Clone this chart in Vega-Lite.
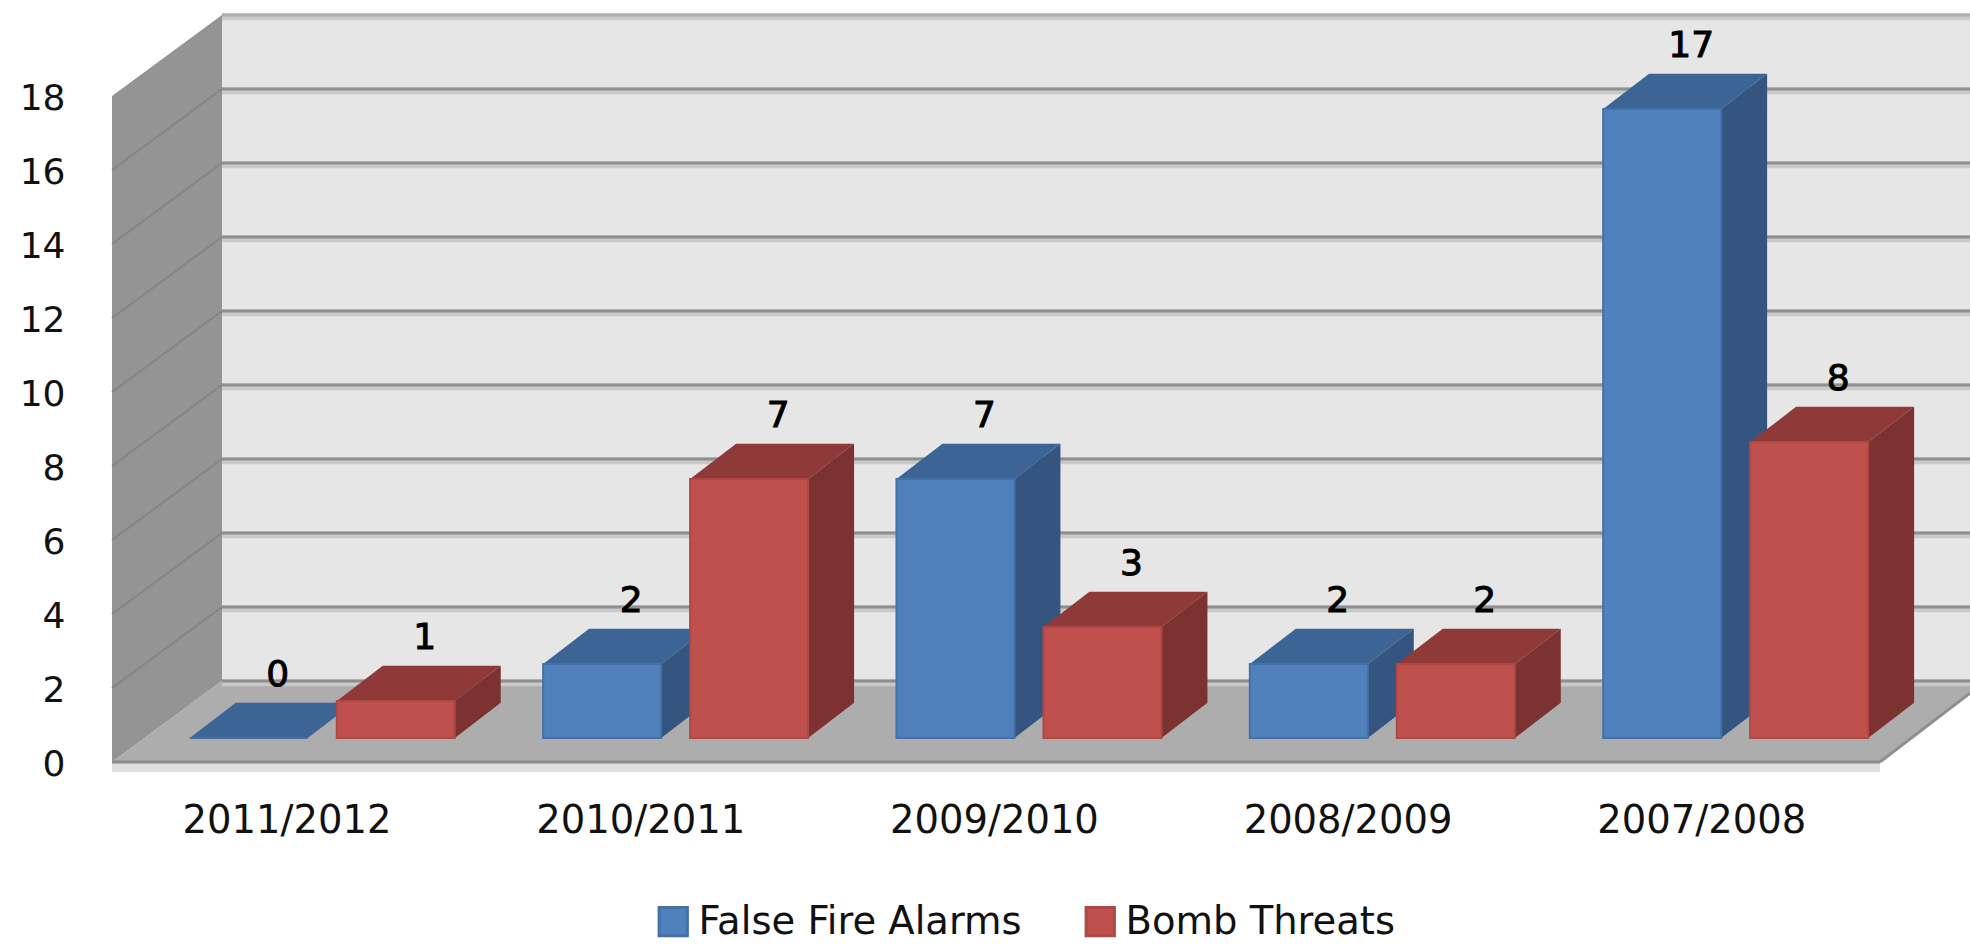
{"$schema":"https://vega.github.io/schema/vega-lite/v6.json","autosize":{"type":"none"},"padding":{"left":112,"top":0,"right":0,"bottom":0},"width":1858,"height":945,"background":"white","config":{"view":{"stroke":null},"font":"DejaVu Sans"},
"datasets":{"bars":[
{"period":"2011/2012","series":"False Fire Alarms","value":0},{"period":"2011/2012","series":"Bomb Threats","value":1},
{"period":"2010/2011","series":"False Fire Alarms","value":2},{"period":"2010/2011","series":"Bomb Threats","value":7},
{"period":"2009/2010","series":"False Fire Alarms","value":7},{"period":"2009/2010","series":"Bomb Threats","value":3},
{"period":"2008/2009","series":"False Fire Alarms","value":2},{"period":"2008/2009","series":"Bomb Threats","value":2},
{"period":"2007/2008","series":"False Fire Alarms","value":17},{"period":"2007/2008","series":"Bomb Threats","value":8}],
"ticks":[{"tick":0},{"tick":2},{"tick":4},{"tick":6},{"tick":8},{"tick":10},{"tick":12},{"tick":14},{"tick":16},{"tick":18}],
"frame":[{"part":"chart frame"}]},
"encoding":{
"x":{"field":"px","type":"quantitative","scale":{"domain":[-0.4934,4.7597],"nice":false,"zero":false},"title":null,
"axis":{"values":[0,1,2,3,4],"labelExpr":"['2011/2012','2010/2011','2009/2010','2008/2009','2007/2008'][datum.value]","domain":false,"ticks":false,"grid":false,"labelPadding":-143,"labelFontSize":38.5,"labelColor":"#111111","labelFlush":false,"labelOverlap":false,"labelBaseline":"top","labelLimit":500}},
"y":{"field":"py","type":"quantitative","stack":null,"scale":{"domain":[-4.946,20.595],"nice":false,"zero":false},"title":null,
"axis":{"values":[0,2,4,6,8,10,12,14,16,18],"domain":false,"ticks":false,"grid":false,"labelPadding":47,"labelFontSize":36,"labelColor":"#111111","labelOffset":2}}},
"layer":[
{"data":{"name":"frame"},"transform":[{"calculate":"-0.1824","as":"px"},{"calculate":"4.7597","as":"px2"},{"calculate":"2.19","as":"py"},{"calculate":"20.19","as":"py2"}],
"mark":{"type":"rect","fill":"#e6e6e6"},"encoding":{"x2":{"field":"px2"},"y2":{"field":"py2"}}},
{"data":{"name":"frame"},"transform":[{"calculate":"[{x:-0.4934,a:0,b:18},{x:-0.1824,a:2.19,b:20.19}]","as":"v"},{"flatten":["v"]},{"calculate":"datum.v.x","as":"px"},{"calculate":"datum.v.a","as":"py"},{"calculate":"datum.v.b","as":"py2"}],
"mark":{"type":"area","fill":"#949494","orient":"vertical"},"encoding":{"y2":{"field":"py2"}}},
{"data":{"name":"frame"},"transform":[{"calculate":"[{x:-0.4934,a:0,b:0},{x:-0.1824,a:2.19,b:0},{x:4.505,a:2.19,b:0},{x:4.7597,a:2.19,b:1.86}]","as":"v"},{"flatten":["v"]},{"calculate":"datum.v.x","as":"px"},{"calculate":"datum.v.a","as":"py"},{"calculate":"datum.v.b","as":"py2"}],
"mark":{"type":"area","fill":"#adadad","orient":"vertical"},"encoding":{"y2":{"field":"py2"}}},
{"data":{"name":"frame"},"transform":[{"calculate":"-0.4934","as":"px"},{"calculate":"4.505","as":"px2"},{"calculate":"0","as":"py"},{"calculate":"-0.27","as":"py2"}],
"mark":{"type":"rect","fill":"#dedede"},"encoding":{"x2":{"field":"px2"},"y2":{"field":"py2"}}},
{"data":{"name":"frame"},"transform":[{"calculate":"-0.4934","as":"px"},{"calculate":"4.505","as":"px2"},{"calculate":"0","as":"py"},{"calculate":"0","as":"py2"}],
"mark":{"type":"rule","stroke":"#8c8c8c","strokeWidth":3},"encoding":{"x2":{"field":"px2"},"y2":{"field":"py2"}}},
{"data":{"name":"frame"},"transform":[{"calculate":"4.505","as":"px"},{"calculate":"4.7597","as":"px2"},{"calculate":"0","as":"py"},{"calculate":"1.86","as":"py2"}],
"mark":{"type":"rule","stroke":"#8f8f8f","strokeWidth":3},"encoding":{"x2":{"field":"px2"},"y2":{"field":"py2"}}},
{"data":{"name":"ticks"},"transform":[{"calculate":"-0.1824","as":"px"},{"calculate":"4.7597","as":"px2"},{"calculate":"datum.tick+2.19-0.05","as":"py"}],
"mark":{"type":"rule","stroke":"#c9c9c9","strokeWidth":7},"encoding":{"x2":{"field":"px2"}}},
{"data":{"name":"ticks"},"transform":[{"calculate":"-0.1824","as":"px"},{"calculate":"4.7597","as":"px2"},{"calculate":"datum.tick+2.19","as":"py"}],
"mark":{"type":"rule","stroke":"#8f8f8f","strokeWidth":3},"encoding":{"x2":{"field":"px2"},"stroke":{"condition":{"test":"datum.tick===18","value":"#b0b0b0"},"value":"#8f8f8f"}}},
{"data":{"name":"ticks"},"transform":[{"filter":"datum.tick<18 && datum.tick>0"},{"calculate":"-0.4934","as":"px"},{"calculate":"-0.1824","as":"px2"},{"calculate":"datum.tick","as":"py"},{"calculate":"datum.tick+2.19","as":"py2"}],
"mark":{"type":"rule","stroke":"#858585","strokeWidth":2},"encoding":{"x2":{"field":"px2"},"y2":{"field":"py2"}}},
{"data":{"name":"bars"},"transform":[
{"calculate":"0.999*indexof(['2011/2012','2010/2011','2009/2010','2008/2009','2007/2008'],datum.period)+(datum.series==='False Fire Alarms'?-0.2735:0.1421)","as":"x0"},
{"calculate":"datum.x0+0.3336","as":"x1"},{"calculate":"datum.value+0.65","as":"t"},
{"calculate":"[{f:'top',x:datum.x0,a:datum.t,b:datum.t},{f:'top',x:datum.x0+0.13,a:datum.t+0.95,b:datum.t},{f:'top',x:datum.x1,a:datum.t+0.95,b:datum.t},{f:'top',x:datum.x1+0.13,a:datum.t+0.95,b:datum.t+0.95},{f:'side',x:datum.x1,a:datum.t,b:0.65},{f:'side',x:datum.x1+0.13,a:datum.t+0.95,b:1.6}]","as":"v"},
{"flatten":["v"]},{"calculate":"datum.v.x","as":"px"},{"calculate":"datum.v.a","as":"py"},{"calculate":"datum.v.b","as":"py2"},{"calculate":"datum.period+datum.series+datum.v.f","as":"face"},{"calculate":"datum.v.f","as":"side"}],
"mark":{"type":"area","orient":"vertical"},
"encoding":{"y2":{"field":"py2"},"detail":{"field":"face"},"fill":{"condition":[{"test":"datum.side==='top' && datum.series==='False Fire Alarms'","value":"#3c6494"},{"test":"datum.side==='side' && datum.series==='False Fire Alarms'","value":"#345580"},{"test":"datum.side==='top'","value":"#8f3a38"}],"value":"#7c3230"}}},
{"data":{"name":"bars"},"transform":[
{"calculate":"0.999*indexof(['2011/2012','2010/2011','2009/2010','2008/2009','2007/2008'],datum.period)+(datum.series==='False Fire Alarms'?-0.2735:0.1421)","as":"px"},
{"calculate":"datum.px+0.3336","as":"px2"},{"calculate":"datum.value+0.65","as":"py"},{"calculate":"0.65","as":"py2"}],
"mark":{"type":"rect","strokeWidth":2},
"encoding":{"x2":{"field":"px2"},"y2":{"field":"py2"},
"fill":{"field":"series","type":"nominal","scale":{"domain":["False Fire Alarms","Bomb Threats"],"range":["#4f81bd","#c0504d"]},
"legend":{"title":null,"orient":"none","legendX":542,"legendY":902,"direction":"horizontal","columns":2,"symbolType":"square","symbolSize":800,"symbolStrokeWidth":3,"labelFontSize":38.5,"labelColor":"#111111","labelLimit":600,"labelOffset":6,"columnPadding":58}},
"stroke":{"field":"series","type":"nominal","scale":{"domain":["False Fire Alarms","Bomb Threats"],"range":["#4671a6","#ad4845"]},"legend":{"title":null,"orient":"none","legendX":542,"legendY":902,"direction":"horizontal","columns":2,"symbolType":"square","symbolSize":800,"symbolStrokeWidth":3,"labelFontSize":38.5,"labelColor":"#111111","labelLimit":600,"labelOffset":6,"columnPadding":58}}}},
{"data":{"name":"bars"},"transform":[
{"calculate":"0.999*indexof(['2011/2012','2010/2011','2009/2010','2008/2009','2007/2008'],datum.period)+(datum.series==='False Fire Alarms'?-0.2735:0.1421)+0.1668+0.082","as":"px"},
{"calculate":"datum.value+0.65+1.7","as":"py"}],
"mark":{"type":"text","fontSize":36,"color":"#000000","stroke":"#000000","strokeWidth":1,"baseline":"middle","align":"center"},
"encoding":{"text":{"field":"value","type":"quantitative"}}}
]}
